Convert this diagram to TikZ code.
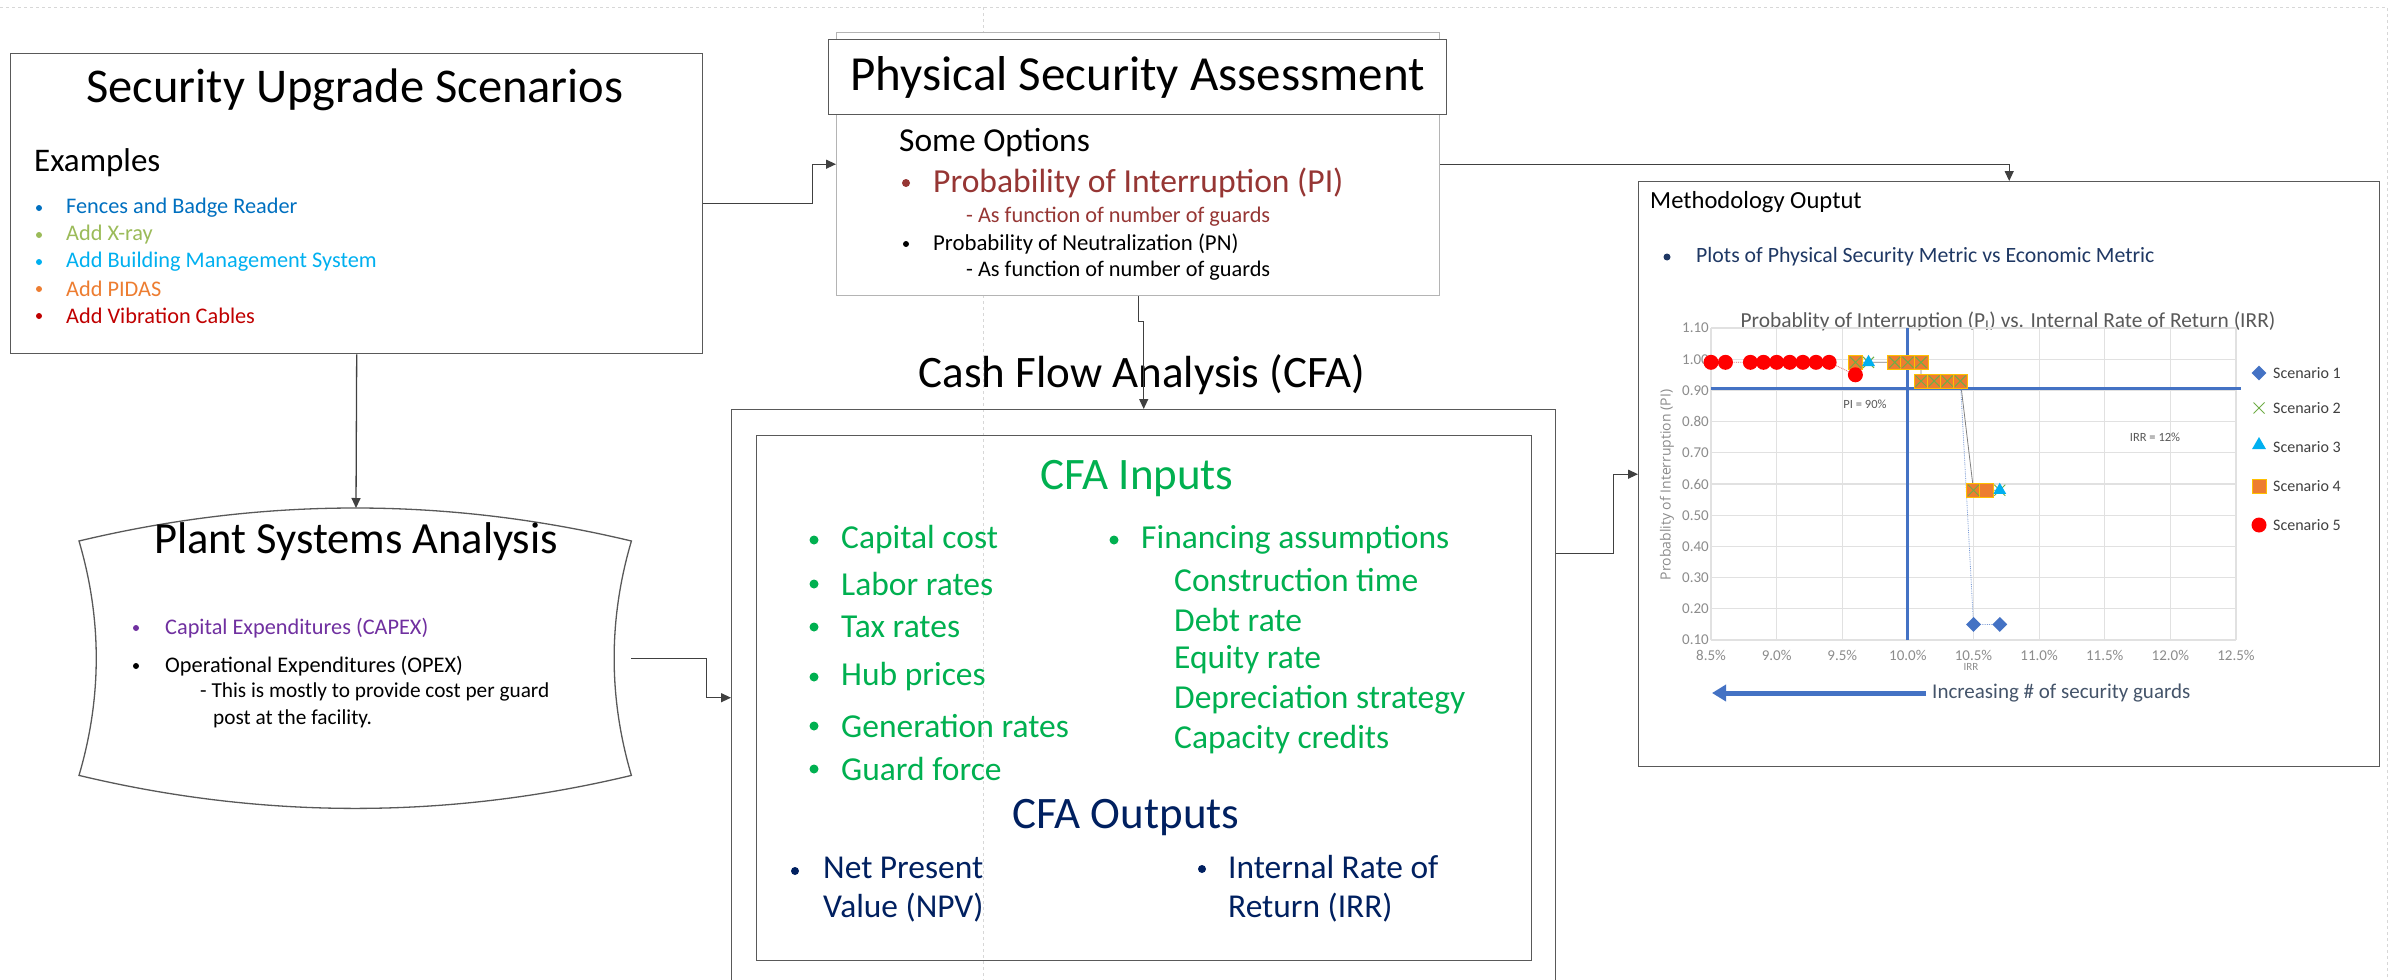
\documentclass[tikz,border=0pt]{standalone}
\usepackage{fontspec}
\setmainfont{Carlito}
\newfontfamily\axisfont{Open Sans}
\usetikzlibrary{shapes.geometric,shapes.misc,arrows.meta,positioning,calc}
\definecolor{LineGray}{RGB}{64,64,64}
\definecolor{BoxGray}{RGB}{89,89,89}
\definecolor{GuideGray}{RGB}{215,215,215}
\definecolor{GridGray}{RGB}{225,225,225}
\definecolor{TickGray}{RGB}{140,140,140}
\definecolor{ChartGray}{RGB}{89,89,89}
\definecolor{FenceBlue}{RGB}{0,112,192}
\definecolor{XrayGreen}{RGB}{155,187,89}
\definecolor{BmsCyan}{RGB}{0,176,240}
\definecolor{PidasOrange}{RGB}{237,125,49}
\definecolor{CableRed}{RGB}{192,0,0}
\definecolor{PiRed}{RGB}{150,54,52}
\definecolor{CapexPurple}{RGB}{112,48,160}
\definecolor{CfaGreen}{RGB}{0,176,80}
\definecolor{CfaNavy}{RGB}{0,32,96}
\definecolor{PlotNavy}{RGB}{31,56,100}
\definecolor{PlotBlue}{RGB}{68,114,196}
\definecolor{PlotGreen}{RGB}{112,173,71}
\definecolor{PlotGold}{RGB}{255,192,0}
\definecolor{SlateText}{RGB}{68,84,106}
\newcommand{\fsize}[2]{\fontsize{#1}{#2}\selectfont}

\begin{document}
\begin{tikzpicture}[x=1pt, y=-1pt,
    box/.style={draw=BoxGray, line width=1.4pt, inner sep=0pt, anchor=north west},
    conn/.style={draw=LineGray, line width=1.3pt, -{Triangle[length=10pt,width=9pt]}},
    item/.style={anchor=west, inner sep=0pt},
    bul/.style={circle, fill=#1, inner sep=0pt, minimum size=6pt},
    mk/.style={inner sep=0pt, minimum size=14pt}]
    \fill[white] (0,0) rectangle (2394,980);
    \useasboundingbox (0,0) rectangle (2394,980);

    % slide guides
    \draw[GuideGray, dashed, line width=0.8pt] (0,7) -- (2387,7) -- (2387,980);
    \draw[GuideGray, dashed, line width=0.8pt] (983,7) -- (983,980);

    % Security upgrade scenarios
    \node[box, minimum width=692, minimum height=300] (sus) at (10,53) {};
    \node[font=\fsize{48.5}{56}] (susT) at (355,90) {Security Upgrade Scenarios};
    \node[item, font=\fsize{33}{39}] (susEx) at (34,163) {Examples};
    \foreach \txt/\col [count=\i] in {Fences and Badge Reader/FenceBlue, Add X-ray/XrayGreen,
        Add Building Management System/BmsCyan, Add PIDAS/PidasOrange, Add Vibration Cables/CableRed} {
      \node[bul=\col] (susB\i) at (39,181+27*\i) {};
      \node[item, text=\col, font=\fsize{22.3}{26}] (susL\i) at (66,181+27*\i) {\txt};
    }

    % Physical security assessment
    \node[box, draw=BoxGray!45, fill=white, minimum width=603, minimum height=263] (psa) at (836,32) {};
    \node[box, fill=white, minimum width=618, minimum height=75, font=\fsize{49}{56}] (psaT) at (828,39) {Physical Security Assessment};
    \node[item, font=\fsize{33.5}{39}] (psaOpt) at (899,143) {Some Options};
    \node[bul=PiRed, minimum size=8pt] (psaB1) at (906,183) {};
    \node[item, text=PiRed, font=\fsize{33.6}{39}] (psaL1) at (933,183) {Probability of Interruption (PI)};
    \node[item, text=PiRed, font=\fsize{22.3}{26}] (psaS1) at (966,217) {- As function of number of guards};
    \node[bul=black] (psaB2) at (906,244) {};
    \node[item, font=\fsize{22.8}{26}] (psaL2) at (933,244) {Probability of Neutralization (PN)};
    \node[item, font=\fsize{22.3}{26}] (psaS2) at (966,271) {- As function of number of guards};

    % Plant systems analysis
    \node[inner sep=0pt, minimum width=552, minimum height=234, anchor=north west] (plant) at (79,541) {};
    \draw[BoxGray, line width=1.3pt] (plant.north west)
      .. controls +(184,-44) and +(-184,-44) .. (plant.north east)
      .. controls +(-23,78) and +(-23,-78) .. (plant.south east)
      .. controls +(-184,44) and +(184,44) .. (plant.south west)
      .. controls +(23,-78) and +(23,78) .. (plant.north west) -- cycle;
    \coordinate (plantTop) at (356,508);
    \node[font=\fsize{44.5}{52}] (plantT) at (356,542) {Plant Systems Analysis};
    \node[bul=CapexPurple] (plantB1) at (136,628) {};
    \node[item, text=CapexPurple, font=\fsize{22.3}{26}] (plantL1) at (165,628) {Capital Expenditures (CAPEX)};
    \node[bul=black] (plantB2) at (136,666) {};
    \node[item, font=\fsize{22.3}{26}] (plantL2) at (165,666) {Operational Expenditures (OPEX)};
    \node[item, font=\fsize{21.3}{25}] (plantS1) at (200,692) {- This is mostly to provide cost per guard};
    \node[item, font=\fsize{21.3}{25}] (plantS2) at (213,719) {post at the facility.};

    % Cash flow analysis
    \node[font=\fsize{45}{52}] (cfaT) at (1142,375) {Cash Flow Analysis (CFA)};
    \node[box, minimum width=824, minimum height=576] (cfa) at (731,409) {};
    \node[box, minimum width=775, minimum height=525] (cfaIn) at (756,435) {};
    \node[text=CfaGreen, font=\fsize{45}{52}] (inT) at (1137,479) {CFA Inputs};
    \foreach \txt/\yy [count=\i] in {Capital cost/540, Labor rates/584, Tax rates/627,
        Hub prices/677, Generation rates/726, Guard force/769} {
      \node[bul=CfaGreen, minimum size=9pt] (inB\i) at (814,\yy) {};
      \node[item, text=CfaGreen, font=\fsize{33.5}{39}] (inL\i) at (841,\yy) {\txt};
    }
    \node[bul=CfaGreen, minimum size=9pt] (finB) at (1114,540) {};
    \node[item, text=CfaGreen, font=\fsize{33.5}{39}] (finL) at (1141,540) {Financing assumptions};
    \foreach \txt/\yy [count=\i] in {Construction time/580, Debt rate/620, Equity rate/660,
        Depreciation strategy/700, Capacity credits/740} {
      \node[item, text=CfaGreen, font=\fsize{33.5}{39}] (finS\i) at (1174,\yy) {\txt};
    }
    \node[text=CfaNavy, font=\fsize{45}{52}] (outT) at (1126,818) {CFA Outputs};
    \node[bul=CfaNavy, minimum size=8pt] (npvB) at (795,871) {};
    \node[item, text=CfaNavy, font=\fsize{33.4}{39}, align=left] (npvL) at (823,890) {Net Present\\Value (NPV)};
    \node[bul=CfaNavy, minimum size=8pt] (irrB) at (1202,869) {};
    \node[item, text=CfaNavy, font=\fsize{33.4}{39}, align=left] (irrL) at (1228,889) {Internal Rate of\\Return (IRR)};

    % Methodology output
    \node[box, minimum width=741, minimum height=585] (meth) at (1638,181) {};
    \node[item, font=\fsize{24.6}{29}] (methT) at (1650,202) {Methodology Ouptut};
    \node[bul=PlotNavy, minimum size=7pt] (methB) at (1667,257) {};
    \node[item, text=PlotNavy, font=\fsize{21.8}{26}] (methL) at (1696,257) {Plots of Physical Security Metric vs Economic Metric};
    \node[text=ChartGray, font=\fsize{21.4}{25}] (chartT) at (2008,321) {Probablity of Interruption (P\textsubscript{I}) vs. Internal Rate of Return (IRR)};

    \begin{scope}[shift={(1711,640)}, x=131.25pt, y=312pt, shift={(-8.5,-0.1)}]
      % grid
      \foreach \g in {0.1,0.2,...,1.15}
        \draw[GridGray, line width=1.2pt] (8.5,\g) -- (12.5,\g);
      \foreach \g in {8.5,9.0,...,12.6}
        \draw[GridGray, line width=1.2pt] (\g,0.1) -- (\g,1.1);
      \foreach \v [count=\i] in {0.10,0.20,0.30,0.40,0.50,0.60,0.70,0.80,0.90,1.00,1.10}
        \node[left, inner sep=2pt, text=TickGray, font=\fsize{15}{17}] (yLab\i) at (8.5,\v) {\v};
      \foreach \v [count=\i] in {8.5,9.0,9.5,10.0,10.5,11.0,11.5,12.0,12.5}
        \node[below, inner sep=10pt, text=TickGray, font=\fsize{15}{17}] (xLab\i) at (\v,0.1) {\v\%};
      % limits
      \draw[PlotBlue, line width=3pt] (8.5,0.905) -- (12.54,0.905);
      \draw[PlotBlue, line width=3pt] (10.0,0.1) -- (10.0,1.1);
      % series lines
      \draw[CableRed!60, densely dotted, line width=0.8pt] plot coordinates {(8.5,0.99) (9.4,0.99) (9.6,0.95)};
      \draw[gray, line width=0.8pt] plot coordinates {(9.6,0.99) (10.1,0.99) (10.1,0.93) (10.4,0.93) (10.5,0.58) (10.7,0.58)};
      \draw[PlotBlue!70, densely dotted, line width=0.8pt] plot coordinates {(10.4,0.93) (10.5,0.15) (10.7,0.15)};
      % scenario 1
      \foreach \px/\py [count=\i] in {10.5/0.15, 10.7/0.15}
        \node[mk, diamond, fill=PlotBlue, minimum size=15pt] (sOne\i) at (\px,\py) {};
      % scenario 4
      \foreach \px/\py [count=\i] in {9.6/0.99, 9.9/0.99, 10.0/0.99, 10.1/0.99, 10.1/0.93,
          10.2/0.93, 10.3/0.93, 10.4/0.93, 10.5/0.58, 10.6/0.58}
        \node[mk, rectangle, fill=PidasOrange, draw=PlotGold, line width=1pt] (sFour\i) at (\px,\py) {};
      % scenario 2
      \foreach \px/\py [count=\i] in {9.6/0.99, 9.7/0.99, 9.9/0.99, 10.0/0.99, 10.1/0.99, 10.1/0.93,
          10.2/0.93, 10.3/0.93, 10.4/0.93, 10.5/0.58, 10.7/0.58}
        \node[mk, cross out, draw=PlotGreen, line width=1pt, minimum size=10pt] (sTwo\i) at (\px,\py) {};
      % scenario 3
      \foreach \px/\py [count=\i] in {9.7/0.99, 10.7/0.58}
        \node[mk, regular polygon, regular polygon sides=3, fill=BmsCyan, minimum size=15pt] (sThree\i) at (\px,\py) {};
      % scenario 5
      \foreach \px/\py [count=\i] in {8.5/0.99, 8.61/0.99, 8.8/0.99, 8.9/0.99, 9.0/0.99, 9.1/0.99,
          9.2/0.99, 9.3/0.99, 9.4/0.99, 9.6/0.95}
        \node[mk, circle, fill=red, minimum size=15pt] (sFive\i) at (\px,\py) {};
    \end{scope}

    \node[text=ChartGray, font=\fsize{12.5}{15}] (piLab) at (1865,404) {PI = 90\%};
    \node[text=ChartGray, font=\fsize{12.5}{15}] (irrLab) at (2155,437) {IRR = 12\%};
    \node[text=TickGray, font=\fsize{11}{13}] (xT) at (1971,667) {IRR};
    \node[rotate=90, text=TickGray, font=\axisfont\fsize{14}{16}] (yT) at (1667,485) {Probablity of Interruption (PI)};

    % legend
    \node[mk, diamond, fill=PlotBlue, minimum size=15pt] (legM1) at (2259,373) {};
    \node[mk, cross out, draw=PlotGreen, line width=1pt, minimum size=10pt] (legM2) at (2259,408) {};
    \node[mk, regular polygon, regular polygon sides=3, fill=BmsCyan, minimum size=16pt] (legM3) at (2259,445) {};
    \node[mk, rectangle, fill=PidasOrange, draw=PlotGold, line width=1pt] (legM4) at (2259,486) {};
    \node[mk, circle, fill=red, minimum size=15pt] (legM5) at (2259,525) {};
    \foreach \yy [count=\i] in {373,408,447,486,525}
      \node[item, text=LineGray, font=\fsize{16}{19}] (legT\i) at (2273,\yy) {Scenario \i};

    \node[item, text=SlateText, font=\fsize{21}{25}] (incT) at (1932,693) {Increasing \# of security guards};
    \coordinate (incEnd) at (1712,693);
    \draw[PlotBlue, line width=5pt, -{Triangle[length=14pt,width=16pt]}] ([xshift=-6pt]incT.west) -- (incEnd);

    % connectors
    \draw[conn] (sus.east) -- ++(109,0) |- (psa.west);
    \draw[conn] (psa.east) -| (meth.north);
    \draw[conn] (psa.south) -- ++(0,25) -| (cfa.north);
    \draw[conn] (sus.south) -- (plantTop);
    \draw[conn] (plant.east) -- ++(75,0) |- (cfa.west);
    \coordinate (cfaOut) at ($(cfa.north east)!0.25!(cfa.south east)$);
    \draw[conn] (cfaOut) -- ++(57,0) |- (meth.west);
\end{tikzpicture}
\end{document}
